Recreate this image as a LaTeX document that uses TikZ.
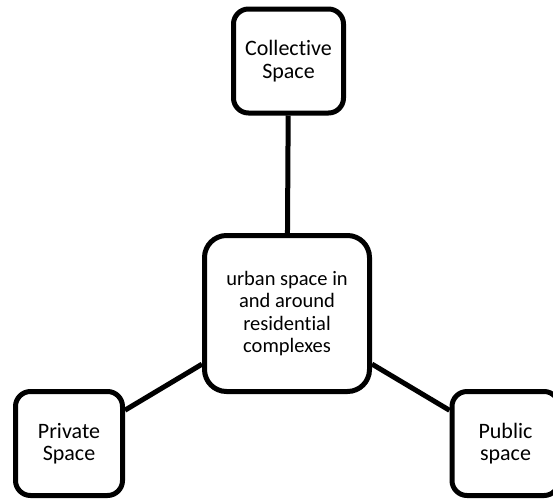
\documentclass[tikz,border=0pt]{standalone}
\usepackage{fontspec}
\setmainfont{Carlito}[Ligatures={NoCommon,NoRare}]
\usepackage{tikz}

\begin{document}
\begin{tikzpicture}[x=1pt,y=-1pt,
  smallbox/.style={draw,line width=5pt,rounded corners=15pt,minimum width=107pt,minimum height=104pt,align=center,font=\fontsize{22}{22.5}\selectfont},
  bigbox/.style={draw,line width=5pt,rounded corners=22pt,minimum width=165pt,minimum height=156pt,align=center,font=\fontsize{20.5}{22.5}\selectfont},
  link/.style={line width=5pt}]
 \useasboundingbox (0,0) rectangle (553,501);
 \draw (288.5, 61) node[smallbox,minimum width=110pt] (collective) {Collective\\Space};
 \draw (287, 313.5) node[bigbox] (urban) {urban space in\\and around\\residential\\complexes};
 \draw (69, 443.5) node[smallbox] (private) {Private\\Space};
 \draw (505.5, 443.5) node[smallbox] (public) {Public\\space};

 \draw[link] (collective) -- (urban);
 \draw[link] (urban) -- (private);
 \draw[link] (urban) -- (public);
\end{tikzpicture}
\end{document}
